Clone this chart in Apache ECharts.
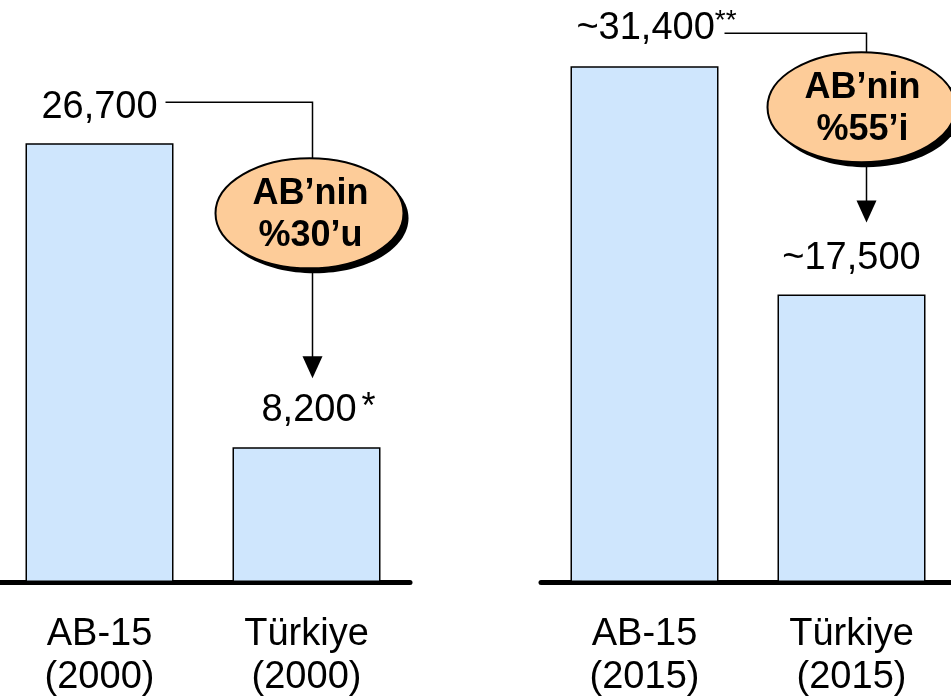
<!DOCTYPE html>
<html>
<head>
<meta charset="utf-8">
<script src="https://cdn.jsdelivr.net/npm/echarts@6/dist/echarts.min.js"></script>
<style>
  html, body { margin: 0; padding: 0; background: #fff; }
  #chart1 { width: 951px; height: 696px; }
</style>
</head>
<body>
<div id="chart1"></div>
<script>
var cats2000 = ['AB-15\n(2000)', 'Türkiye\n(2000)'];
var vals2000 = [26700, 8200];
var cats2015 = ['AB-15\n(2015)', 'Türkiye\n(2015)'];
var vals2015 = [31400, 17500];
var pre2000 = ['', ''];
var note2000 = ['', '*'];
var pre2015 = ['~', '~'];
var note2015 = ['**', ''];
var bubble2000 = ['AB’nin', '%30’u'];
var bubble2015 = ['AB’nin', '%55’i'];

var font = 'Liberation Sans, Arial, sans-serif';
var dom = document.getElementById('chart1');
var myChart = echarts.init(dom);

function fmt(v) {
    return v.toLocaleString('en-US');
}

function barData(vals, pre, note) {
    return vals.map(function (v, i) {
        var txt = '{v|' + pre[i] + fmt(v) + '}';
        var off = [0, 0];
        if (note[i] === '*') { txt += '{s|*}'; off = [12, 0]; }
        if (note[i] === '**') { txt += '{ss|**}'; off = [12, 0]; }
        return { value: v, label: { formatter: txt, offset: off } };
    });
}

var labelRich = {
    v: { fontSize: 38, fontFamily: font, color: '#000' },
    s: { fontSize: 36, fontFamily: font, color: '#000', padding: [0, 0, 4, 5] },
    ss: { fontSize: 28, fontFamily: font, color: '#000', padding: [0, 0, 14, 0] }
};

function xAx(idx, data) {
    return {
        type: 'category', gridIndex: idx, data: data,
        axisTick: { show: false },
        axisLine: { lineStyle: { color: '#000', width: 5, cap: 'round' } },
        axisLabel: { interval: 0, color: '#000', fontSize: 38, lineHeight: 43, margin: 31, fontFamily: font }
    };
}
function yAx(idx) {
    return { type: 'value', gridIndex: idx, min: 0, max: 35000, show: false, splitLine: { show: false } };
}
function barSeries(idx, data) {
    return {
        type: 'bar', xAxisIndex: idx, yAxisIndex: idx, barWidth: 148,
        data: data,
        itemStyle: { color: '#cfe6fd', borderColor: '#000', borderWidth: 1.5 },
        label: { show: true, position: 'top', distance: 17, rich: labelRich },
        silent: true
    };
}

option = {
    animation: false,
    grid: [
        { left: -4, width: 414, top: 7, bottom: 114, outerBoundsMode: 'none', containLabel: false },
        { left: 541, width: 414, top: 7, bottom: 114, outerBoundsMode: 'none', containLabel: false }
    ],
    xAxis: [xAx(0, cats2000), xAx(1, cats2015)],
    yAxis: [yAx(0), yAx(1)],
    series: [
        barSeries(0, barData(vals2000, pre2000, note2000)),
        barSeries(1, barData(vals2015, pre2015, note2015))
    ]
};
myChart.setOption(option, true);

// annotation: bracket line + bubble + arrow, placed from the bar pixels
function callout(a, t, cfg, lines) {
    var lx = t[0] + cfg.dx;
    var hy = a[1] + cfg.hy;
    var tipY = t[1] + cfg.tip;
    var cx = t[0] + cfg.ex, cy = a[1] + cfg.ey;
    var els = [];
    els.push({ type: 'polyline', z: 10, shape: { points: [[a[0] + cfg.x0, hy], [lx, hy], [lx, tipY - 20]] },
        style: { stroke: '#000', lineWidth: 1.5, fill: null } });
    els.push({ type: 'polygon', z: 10, shape: { points: [[lx - 10, tipY - 22], [lx + 10, tipY - 22], [lx, tipY]] },
        style: { fill: '#000' } });
    els.push({ type: 'ellipse', z: 11, shape: { cx: cx + 5, cy: cy + 5, rx: 94, ry: 55 }, style: { fill: '#000' } });
    els.push({ type: 'ellipse', z: 12, shape: { cx: cx, cy: cy, rx: 94, ry: 55 },
        style: { fill: '#fdcc99', stroke: '#000', lineWidth: 2 } });
    els.push({ type: 'text', z: 13, x: cx + 1, y: cy - 19, style: { text: lines[0], fill: '#000',
        font: 'bold 36px ' + font, align: 'center', verticalAlign: 'middle' } });
    els.push({ type: 'text', z: 13, x: cx + 1, y: cy + 23, style: { text: lines[1], fill: '#000',
        font: 'bold 36px ' + font, align: 'center', verticalAlign: 'middle' } });
    return els;
}

var a0 = myChart.convertToPixel({ seriesIndex: 0 }, [0, vals2000[0]]);
var t0 = myChart.convertToPixel({ seriesIndex: 0 }, [1, vals2000[1]]);
var a1 = myChart.convertToPixel({ seriesIndex: 1 }, [0, vals2015[0]]);
var t1 = myChart.convertToPixel({ seriesIndex: 1 }, [1, vals2015[1]]);

var g = callout(a0, t0, { x0: 66, hy: -41, dx: 6, tip: -69, ex: 3, ey: 70 }, bubble2000)
    .concat(callout(a1, t1, { x0: 80, hy: -33, dx: 15, tip: -72, ex: 10, ey: 41 }, bubble2015));
myChart.setOption({ graphic: g });
</script>
</body>
</html>
